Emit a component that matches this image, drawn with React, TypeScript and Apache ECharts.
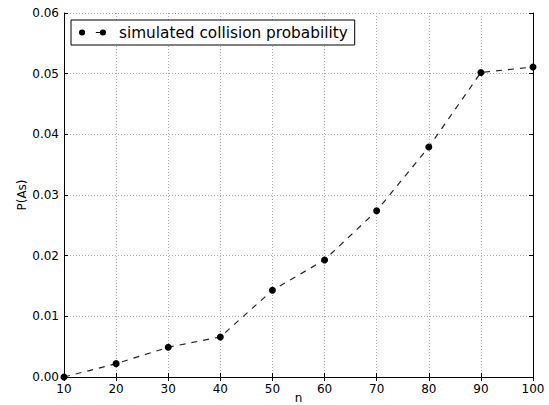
import React, { useEffect, useRef } from "react";
import * as echarts from "echarts";

const nValues = [10, 20, 30, 40, 50, 60, 70, 80, 90, 100];
const probabilities = [0.0, 0.0022, 0.0049, 0.0066, 0.0143, 0.0193, 0.0274, 0.0379, 0.0502, 0.0511];
const seriesName = "simulated collision probability";
const xTitle = "n";
const yTitle = "P(As)";

const FONT = "DejaVu Sans";

export default function App() {
  const ref = useRef<HTMLDivElement>(null);
  useEffect(() => {
    if (!ref.current) return;
    const chart = echarts.init(ref.current, undefined, { renderer: "svg" });
    const data = nValues.map((n, i) => [n, probabilities[i]]);
    const tickCommon = { show: true, inside: true, length: 4, lineStyle: { color: "#000", width: 1 } };
    const legendIcon =
      "path://M0.5,4a3,3 0 1,0 6,0a3,3 0 1,0 -6,0Z M17,3.4h4.2v1.2h-4.2Z M21,4a3,3 0 1,0 6,0a3,3 0 1,0 -6,0Z";
    chart.setOption({
      animation: false,
      backgroundColor: "#fff",
      textStyle: { fontFamily: FONT },
      grid: { left: 64, right: 16, top: 13, bottom: 28, containLabel: false, outerBoundsMode: "none" },
      legend: {
        show: true,
        left: 71,
        top: 20,
        orient: "horizontal",
        padding: [5, 7, 5, 8],
        borderColor: "#000",
        borderWidth: 1,
        borderRadius: 0,
        backgroundColor: "#fff",
        itemWidth: 27,
        itemHeight: 8,
        icon: legendIcon,
        data: [{ name: seriesName, icon: legendIcon, itemStyle: { color: "#000" } }],
        textStyle: { fontFamily: FONT, fontSize: 15.3, color: "#000", padding: [0, 0, 0, 8] },
      },
      xAxis: [
        {
          type: "value",
          min: 10,
          max: 100,
          interval: 10,
          position: "bottom",
          name: xTitle,
          nameLocation: "middle",
          nameGap: 15,
          nameMoveOverlap: false,
          nameTextStyle: { fontFamily: FONT, fontSize: 12, color: "#000" },
          axisLine: { show: true, lineStyle: { color: "#000", width: 1 } },
          axisTick: tickCommon,
          axisLabel: { fontFamily: FONT, fontSize: 12, color: "#000", margin: 6 },
          splitLine: { show: true, lineStyle: { color: "#aaa", width: 1, type: [1, 2] } },
        },
        {
          type: "value",
          min: 10,
          max: 100,
          interval: 10,
          position: "top",
          axisLine: { show: true, lineStyle: { color: "#000", width: 1 } },
          axisTick: tickCommon,
          axisLabel: { show: false },
          splitLine: { show: false },
        },
      ],
      yAxis: [
        {
          type: "value",
          min: 0,
          max: 0.06,
          interval: 0.01,
          position: "left",
          name: yTitle,
          nameLocation: "middle",
          nameGap: 36,
          nameRotate: 90,
          nameMoveOverlap: false,
          nameTextStyle: { fontFamily: FONT, fontSize: 12, color: "#000" },
          axisLine: { show: true, lineStyle: { color: "#000", width: 1 } },
          axisTick: tickCommon,
          axisLabel: {
            fontFamily: FONT,
            fontSize: 12,
            color: "#000",
            margin: 5,
            formatter: (v: number) => v.toFixed(2),
          },
          splitLine: { show: true, lineStyle: { color: "#aaa", width: 1, type: [1, 2] } },
        },
        {
          type: "value",
          min: 0,
          max: 0.06,
          interval: 0.01,
          position: "right",
          axisLine: { show: true, lineStyle: { color: "#000", width: 1 } },
          axisTick: tickCommon,
          axisLabel: { show: false },
          splitLine: { show: false },
        },
      ],
      series: [
        {
          name: seriesName,
          type: "line",
          xAxisIndex: 0,
          yAxisIndex: 0,
          data,
          symbol: "circle",
          symbolSize: 7,
          clip: true,
          itemStyle: { color: "#000" },
          lineStyle: { color: "#222", width: 1.2, type: [6, 6] },
        },
      ],
    });
    return () => chart.dispose();
  }, []);
  return (
    <div
      ref={ref}
      style={{ position: "fixed", left: 0, top: 0, width: 549, height: 405 }}
    />
  );
}
